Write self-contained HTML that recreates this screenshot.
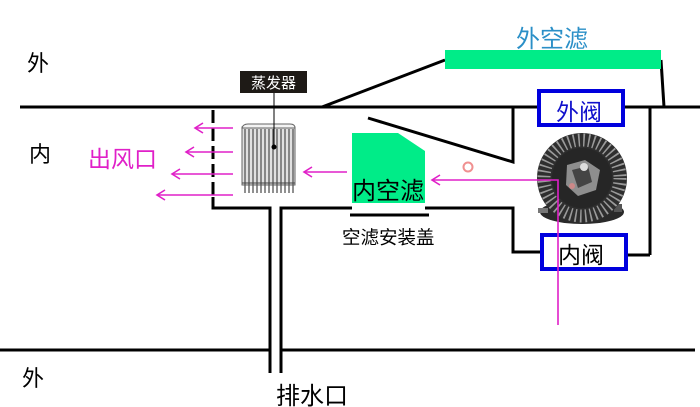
<!DOCTYPE html>
<html><head><meta charset="utf-8"><style>
html,body{margin:0;padding:0;background:#fff;}
svg{display:block;}
text{font-family:"Liberation Sans","Noto Sans CJK SC",sans-serif;}
</style></head><body>
<svg width="700" height="407" viewBox="0 0 700 407" xmlns="http://www.w3.org/2000/svg">
<rect width="700" height="407" fill="#fff"/>
<!-- main lines -->
<g stroke="#000" stroke-width="3" fill="none">
<line x1="20" y1="107" x2="700" y2="107"/>
<line x1="0" y1="350" x2="270" y2="350"/>
<line x1="281" y1="350" x2="695" y2="350"/>
<line x1="322" y1="107" x2="445" y2="60"/>
<line x1="661" y1="60" x2="664" y2="107"/>
<polyline points="513,107 513,162 368,118"/>
<line x1="650" y1="107" x2="650" y2="255"/>
<line x1="650" y1="255" x2="628" y2="255"/>
<line x1="213" y1="110" x2="213" y2="197" stroke-dasharray="13,5"/>
<polyline points="213,197 213,208 270,208 270,373"/>
<polyline points="281,373 281,208 352,208"/>
<polyline points="425,208 513,208 513,252 540,252"/>
<line x1="350" y1="215" x2="429" y2="215"/>
</g>
<!-- green filters -->
<rect x="445" y="50" width="216" height="19" fill="#00ec88"/>
<polygon points="352,133 398,133 425,151 425,203 352,203" fill="#00ec88"/>
<!-- valves -->
<rect x="539" y="91" width="84" height="34" fill="#fff" stroke="#0000dd" stroke-width="4"/>
<rect x="542" y="235" width="84" height="34" fill="#fff" stroke="#0000dd" stroke-width="4"/>
<!-- evaporator -->
<g>
<rect x="242" y="127" width="53" height="58" fill="#e0e0e0" stroke="#666" stroke-width="1"/>
<path d="M242,128 Q243,124 248,124 L290,124 Q295,124 295,128 Z" fill="#f3f3f3" stroke="#666" stroke-width="1"/>
<g stroke="#555" stroke-width="1.3">
<line x1="245" y1="129" x2="245" y2="193"/><line x1="249" y1="129" x2="249" y2="193"/>
<line x1="253" y1="129" x2="253" y2="193"/><line x1="257" y1="129" x2="257" y2="193"/>
<line x1="261" y1="129" x2="261" y2="193"/><line x1="265" y1="129" x2="265" y2="193"/>
<line x1="269" y1="129" x2="269" y2="193"/><line x1="273" y1="129" x2="273" y2="193"/>
<line x1="277" y1="129" x2="277" y2="193"/><line x1="281" y1="129" x2="281" y2="193"/>
<line x1="285" y1="129" x2="285" y2="193"/><line x1="289" y1="129" x2="289" y2="193"/>
<line x1="293" y1="129" x2="293" y2="193"/>
</g>
<line x1="242" y1="183" x2="295" y2="183" stroke="#444" stroke-width="1"/>
</g>
<rect x="240" y="71" width="67" height="22" fill="#1e1a16"/>
<text x="273.5" y="88" font-size="15" fill="#fff" text-anchor="middle">蒸发器</text>
<line x1="274" y1="93" x2="274" y2="147" stroke="#000" stroke-width="1"/>
<circle cx="274" cy="147" r="2.5" fill="#000"/>
<!-- blower -->
<g>
<ellipse cx="582" cy="212" rx="42" ry="12" fill="#2a2a2a"/>
<rect x="538" y="208" width="10" height="5" fill="#777"/>
<rect x="614" y="204" width="8" height="8" fill="#555"/>
<circle cx="582" cy="178" r="45" fill="#2e2e2e"/>
<circle cx="582" cy="178" r="38" fill="none" stroke="#9a9a9a" stroke-width="13" stroke-dasharray="1.6,3.4"/>
<circle cx="582" cy="178" r="30" fill="#262626"/>
<path d="M567,165 L585,160 L600,170 L596,190 L578,196 L566,185 Z" fill="#bbb" opacity="0.7"/>
<path d="M572,170 L588,166 L592,182 L578,188 Z" fill="#444"/>
<circle cx="584" cy="167" r="4" fill="#ddd"/>
<circle cx="572" cy="186" r="3" fill="#c88"/>
</g>
<!-- magenta arrows -->
<g stroke="#e020c8" stroke-width="1.6" fill="none">
<line x1="233" y1="128" x2="195" y2="128"/>
<polyline points="203,123 195,128 203,133"/>
<line x1="233" y1="152" x2="186" y2="152"/>
<polyline points="194,147 186,152 194,157"/>
<line x1="233" y1="174" x2="172" y2="174"/>
<polyline points="180,169 172,174 180,179"/>
<line x1="233" y1="195" x2="157" y2="195"/>
<polyline points="165,190 157,195 165,200"/>
<line x1="347" y1="172" x2="304" y2="172"/>
<polyline points="312,167 304,172 312,177"/>
<polyline points="558,325 558,180 432,180"/>
<polyline points="440,175 432,180 440,185"/>
</g>
<circle cx="468" cy="167" r="4.5" fill="none" stroke="#f09090" stroke-width="2"/>
<!-- labels -->
<text x="27" y="71" font-size="22" fill="#000">外</text>
<text x="29" y="162" font-size="22" fill="#000">内</text>
<text x="88" y="167" font-size="23" fill="#e020c8">出风口</text>
<text x="516" y="47" font-size="24" fill="#2a8fc7">外空滤</text>
<text x="556" y="120" font-size="23" fill="#1010cc">外阀</text>
<text x="352" y="199" font-size="24" fill="#000">内空滤</text>
<text x="342" y="244" font-size="18.5" fill="#000">空滤安装盖</text>
<text x="558" y="263" font-size="23" fill="#000">内阀</text>
<text x="22" y="386" font-size="22" fill="#000">外</text>
<text x="276" y="404" font-size="24" fill="#000">排水口</text>
</svg>
</body></html>
